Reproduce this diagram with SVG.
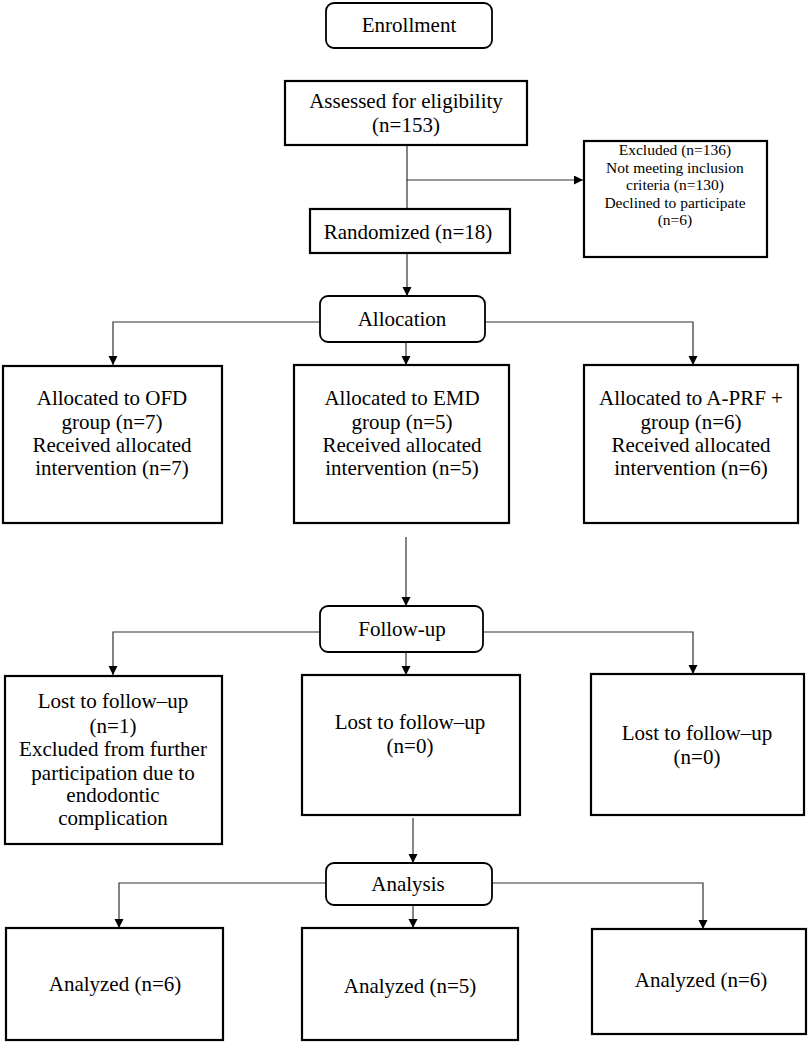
<svg xmlns="http://www.w3.org/2000/svg" width="810" height="1043" viewBox="0 0 810 1043">
<defs>
<marker id="arr" markerUnits="userSpaceOnUse" markerWidth="10" markerHeight="10" refX="9" refY="4.5" orient="auto">
<path d="M0,0 L9,4.5 L0,9 z" fill="#000"/>
</marker>
<style>
.box{fill:#fff;stroke:#000;stroke-width:2.2}
.rbox{fill:#fff;stroke:#000;stroke-width:1.8}
.t{font-family:"Liberation Serif","Times New Roman",serif;font-size:21px;fill:#000;text-anchor:middle}
.s{font-family:"Liberation Serif","Times New Roman",serif;font-size:15.5px;fill:#000;text-anchor:middle}
.c{fill:none;stroke:#333;stroke-width:1.2}
.a{fill:none;stroke:#333;stroke-width:1.2;marker-end:url(#arr)}
</style>
</defs>
<rect width="810" height="1043" fill="#fff"/>
<g id="connectors">
<path class="a" d="M407,145 V180 H583"/>
<path class="c" d="M407,180 V209"/>
<path class="a" d="M407,253 V296"/>
<path class="a" d="M320,322 H113 V365"/>
<path class="a" d="M406,342 V365"/>
<path class="a" d="M485,322 H693 V365"/>
<path class="a" d="M406,537 V606"/>
<path class="a" d="M320,632 H113 V675"/>
<path class="a" d="M406,652 V675"/>
<path class="a" d="M483,632 H693 V674"/>
<path class="a" d="M413,818 V863"/>
<path class="a" d="M326,883 H119 V928"/>
<path class="a" d="M413,905 V928"/>
<path class="a" d="M492,883 H703 V929"/>
</g>
<g id="enrollment">
<rect class="rbox" x="326" y="3" width="166" height="45" rx="8"/>
<text class="t" x="409" y="32">Enrollment</text>
</g>
<g id="assessed">
<rect class="box" x="285" y="81" width="242" height="64"/>
<text class="t" x="406" y="108">Assessed for eligibility</text>
<text class="t" x="406" y="132">(n=153)</text>
</g>
<g id="excluded">
<rect class="box" x="584" y="141" width="183" height="116"/>
<text class="s" x="675" y="155">Excluded (n=136)</text>
<text class="s" x="675" y="172.5">Not meeting inclusion</text>
<text class="s" x="675" y="190">criteria (n=130)</text>
<text class="s" x="675" y="207.5">Declined to participate</text>
<text class="s" x="675" y="225">(n=6)</text>
</g>
<g id="randomized">
<rect class="box" x="310" y="209" width="200" height="44"/>
<text class="t" x="408" y="239">Randomized (n=18)</text>
</g>
<g id="allocation">
<rect class="rbox" x="320" y="296" width="165" height="46" rx="8"/>
<text class="t" x="402" y="326">Allocation</text>
</g>
<g id="alloc-ofd">
<rect class="box" x="3" y="366" width="219" height="157"/>
<text class="t" x="112" y="405">Allocated to OFD</text>
<text class="t" x="112" y="429">group (n=7)</text>
<text class="t" x="112" y="452">Received allocated</text>
<text class="t" x="112" y="475">intervention (n=7)</text>
</g>
<g id="alloc-emd">
<rect class="box" x="294" y="365" width="215" height="158"/>
<text class="t" x="402" y="405">Allocated to EMD</text>
<text class="t" x="402" y="429">group (n=5)</text>
<text class="t" x="402" y="452">Received allocated</text>
<text class="t" x="402" y="475">intervention (n=5)</text>
</g>
<g id="alloc-aprf">
<rect class="box" x="584" y="365" width="214" height="158"/>
<text class="t" x="691" y="405">Allocated to A-PRF +</text>
<text class="t" x="691" y="429">group (n=6)</text>
<text class="t" x="691" y="452">Received allocated</text>
<text class="t" x="691" y="475">intervention (n=6)</text>
</g>
<g id="followup">
<rect class="rbox" x="320" y="606" width="163" height="46" rx="8"/>
<text class="t" x="402" y="636">Follow-up</text>
</g>
<g id="fu-ofd">
<rect class="box" x="5" y="676" width="217" height="168"/>
<text class="t" x="113" y="708">Lost to follow–up</text>
<text class="t" x="113" y="733">(n=1)</text>
<text class="t" x="113" y="756">Excluded from further</text>
<text class="t" x="113" y="780">participation due to</text>
<text class="t" x="113" y="802">endodontic</text>
<text class="t" x="113" y="825">complication</text>
</g>
<g id="fu-emd">
<rect class="box" x="302" y="675" width="218" height="140"/>
<text class="t" x="410" y="729">Lost to follow–up</text>
<text class="t" x="410" y="753">(n=0)</text>
</g>
<g id="fu-aprf">
<rect class="box" x="591" y="674" width="213" height="141"/>
<text class="t" x="697" y="740">Lost to follow–up</text>
<text class="t" x="697" y="764">(n=0)</text>
</g>
<g id="analysis">
<rect class="rbox" x="326" y="863" width="166" height="42" rx="8"/>
<text class="t" x="408" y="891">Analysis</text>
</g>
<g id="an-ofd">
<rect class="box" x="6" y="928" width="217" height="112"/>
<text class="t" x="115" y="991">Analyzed (n=6)</text>
</g>
<g id="an-emd">
<rect class="box" x="302" y="928" width="216" height="112"/>
<text class="t" x="410" y="993">Analyzed (n=5)</text>
</g>
<g id="an-aprf">
<rect class="box" x="592" y="929" width="214" height="105"/>
<text class="t" x="701" y="987">Analyzed (n=6)</text>
</g>
</svg>
